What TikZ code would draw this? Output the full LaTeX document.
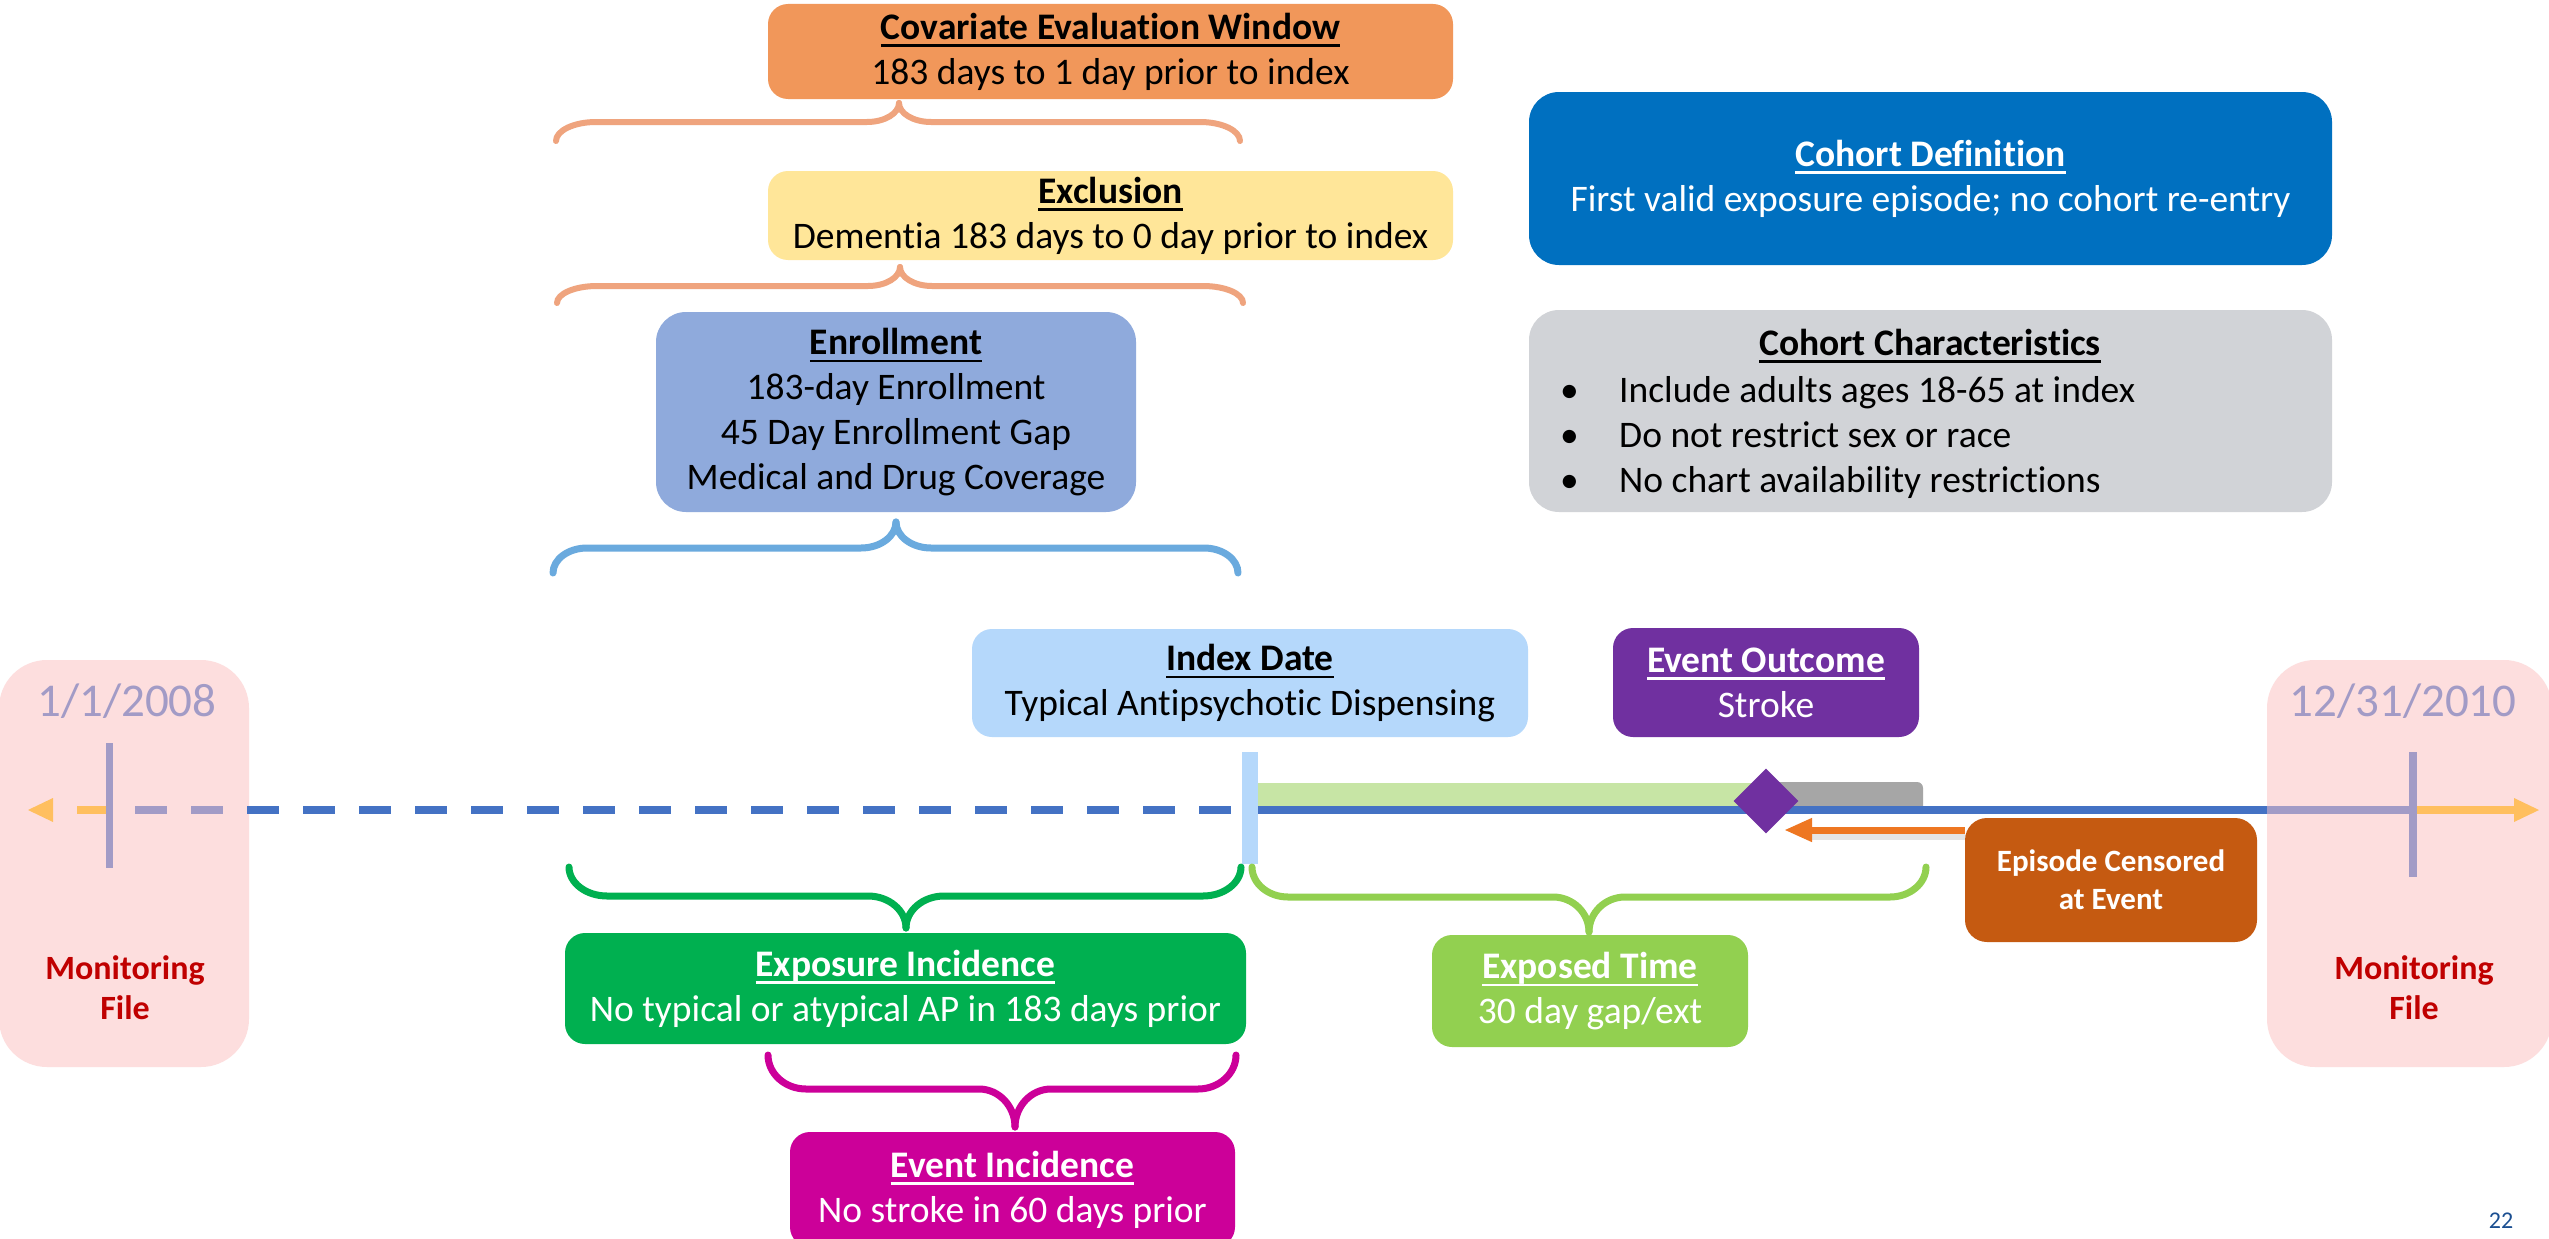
\documentclass[tikz,border=0pt]{standalone}
\usepackage{fontspec}
\setmainfont{Carlito}[Ligatures=NoCommon]
\usetikzlibrary{shapes.geometric,arrows.meta}
\definecolor{covarC}{HTML}{F1975A}
\definecolor{exclC}{HTML}{FFE699}
\definecolor{enrollC}{HTML}{8FAADC}
\definecolor{braceO}{HTML}{EFA47E}
\definecolor{braceB}{HTML}{6AAADE}
\definecolor{cdefC}{HTML}{0070C0}
\definecolor{ccharC}{HTML}{D1D3D7}
\definecolor{indexC}{HTML}{B5D8FB}
\definecolor{purpC}{HTML}{7030A0}
\definecolor{pinkC}{HTML}{FDDEDE}
\definecolor{lavC}{HTML}{A29BC6}
\definecolor{tlBlue}{HTML}{4472C4}
\definecolor{lorC}{HTML}{FFBF5F}
\definecolor{lgbarC}{HTML}{C7E5A5}
\definecolor{grayC}{HTML}{A6A6A6}
\definecolor{orArrow}{HTML}{EE7722}
\definecolor{episC}{HTML}{C55A11}
\definecolor{greenC}{HTML}{00B050}
\definecolor{lgreenC}{HTML}{92D050}
\definecolor{magC}{HTML}{CC0099}
\definecolor{monC}{HTML}{C00000}
\definecolor{pgC}{HTML}{1B4F91}
\newcommand\myul[1]{\setbox0=\hbox{#1}\rlap{\rule[-0.21em]{\wd0}{0.075em}}\box0}
% brace: style, xL, xR, xT, yE, yH, yT, a, c
\newcommand\bracedraw[9]{%
  \draw[line cap=round, #1] (#2,#5) .. controls (#2,{#5-0.55*(#5-#6)}) and ({#2+0.45*#8},#6) .. ({#2+#8},#6)
    -- ({#4-#9},#6) .. controls ({#4-0.45*#9},#6) and (#4,{#7-0.55*(#7-#6)}) .. (#4,#7);
  \draw[line cap=round, #1] (#4,#7) .. controls (#4,{#7-0.55*(#7-#6)}) and ({#4+0.45*#9},#6) .. ({#4+#9},#6)
    -- ({#3-#8},#6) .. controls ({#3-0.45*#8},#6) and (#3,{#5-0.55*(#5-#6)}) .. (#3,#5);}
\begin{document}
\begin{tikzpicture}[x=1pt,y=-1pt,
  box/.style={rounded corners=#1, inner sep=0pt, align=center, font=\fontsize{37.5}{45}\selectfont,
    execute at begin node={\rule{0pt}{0.9em}}},
  box/.default=20pt]
\useasboundingbox (0,0) rectangle (2549,1239);
\fill[white] (0,0) rectangle (2549,1239);

% top boxes
\node[box, fill=covarC, minimum width=685pt, minimum height=95pt] (covar) at (1110.5,51.5)
  {\myul{\textbf{Covariate Evaluation Window}}\\183 days to 1 day prior to index};
\node[box, fill=exclC, minimum width=685pt, minimum height=89pt] (excl) at (1110.5,215.5)
  {\myul{\textbf{Exclusion}}\\Dementia 183 days to 0 day prior to index};
\node[box=30pt, fill=enrollC, minimum width=480pt, minimum height=200pt] (enroll) at (896,412)
  {\myul{\textbf{Enrollment}}\\183-day Enrollment\\45 Day Enrollment Gap\\Medical and Drug Coverage};

\bracedraw{braceO, line width=6pt}{556}{1240}{899}{141}{122}{103}{40}{32}
\bracedraw{braceO, line width=6pt}{557}{1243}{900}{303}{286}{267}{40}{32}
\bracedraw{braceB, line width=7pt}{553}{1238}{896}{573}{548}{522}{34}{35}

% cohort boxes
\node[box=30pt, fill=cdefC, text=white, minimum width=803pt, minimum height=173pt] (cohortdef) at (1930.5,178.5)
  {\myul{\textbf{Cohort Definition}}\\First valid exposure episode; no cohort re-entry};
\node[box=30pt, fill=ccharC, minimum width=803pt, minimum height=202pt] (cohortchar) at (1930.5,411) {};
\node[font=\fontsize{37.5}{45}\selectfont, inner sep=0pt] (chartitle) at (1930,346) {\myul{\textbf{Cohort Characteristics}}};
\node[anchor=west, align=left, font=\fontsize{37.5}{45}\selectfont, inner sep=0pt] (charlist) at (1560,437)
  {\makebox[59pt][l]{•}Include adults ages 18-65 at index\\
   \makebox[59pt][l]{•}Do not restrict sex or race\\
   \makebox[59pt][l]{•}No chart availability restrictions};

% monitoring boxes
\fill[pinkC, rounded corners=48pt] (-1,660) rectangle (249,1067);
\fill[pinkC, rounded corners=48pt] (2267,660) rectangle (2552,1067);
\node[font=\fontsize{47}{50}\selectfont, text=lavC, inner sep=0pt] (dateL) at (127,701) {1/1/2008};
\node[font=\fontsize{47}{50}\selectfont, text=lavC, inner sep=0pt] (dateR) at (2403,701) {12/31/2010};
\node[font=\fontsize{34}{40}\selectfont\bfseries, text=monC, align=center, inner sep=0pt] (monL) at (125,988) {Monitoring\\File};
\node[font=\fontsize{34}{40}\selectfont\bfseries, text=monC, align=center, inner sep=0pt] (monR) at (2414,988) {Monitoring\\File};

% index / outcome
\node[box, fill=indexC, minimum width=556pt, minimum height=108pt] (index) at (1250,683)
  {\myul{\textbf{Index Date}}\\Typical Antipsychotic Dispensing};
\node[box, fill=purpC, text=white, minimum width=306pt, minimum height=109pt] (outcome) at (1766,682.5)
  {\myul{\textbf{Event Outcome}}\\Stroke};

% timeline
\draw[tlBlue, line width=8pt, dash pattern=on 32pt off 24pt] (247,810) -- (1242,810);
\draw[lavC, line width=8pt, dash pattern=on 32pt off 24pt] (135,810) -- (223,810);
\draw[lorC, line width=8pt] (77,810) -- (106,810);
\fill[lorC] (28,810) -- (53,798) -- (53,822) -- cycle;
\fill[lavC] (106,743) rectangle (113,868);
\fill[lgbarC] (1258,783) rectangle (1768,806);
\fill[grayC] (1760,806) -- (1760,782) [rounded corners=6pt] -- (1923,782) [sharp corners] -- (1923,806) -- cycle;
\draw[tlBlue, line width=8pt] (1258,810) -- (2267,810);
\draw[lavC, line width=8pt] (2267,810) -- (2410,810);
\draw[lorC, line width=8pt] (2416,810) -- (2515,810);
\fill[lorC] (2539,810) -- (2514,798) -- (2514,822) -- cycle;
\fill[lavC] (2409,752) rectangle (2417,877);
\fill[indexC] (1242,752) rectangle (1258,864);
\node[diamond, fill=purpC, inner sep=0pt, minimum width=65pt, minimum height=65pt] (evt) at (1766,801) {};

% episode censored
\node[box=22pt, fill=episC, text=white, minimum width=292pt, minimum height=124pt,
  font=\fontsize{31}{38}\selectfont\bfseries] (episode) at (2111,880) {Episode Censored\\at Event};
\coordinate (censtip) at (1784,830);
\draw[black, opacity=0.10, line width=6pt] (1808,837) -- (episode.west |- 0,837);
\draw[orArrow, line width=7pt, -{Triangle[length=28pt,width=22pt]}] (episode.west |- censtip) -- (censtip);

% lower braces and boxes
\bracedraw{greenC, line width=7pt}{569}{1241}{906}{867}{896}{928}{38}{38}
\bracedraw{lgreenC, line width=7pt}{1252}{1926}{1589}{867}{897}{932}{36}{36}
\bracedraw{magC, line width=7pt}{768}{1236}{1015}{1055}{1089}{1127}{38}{36}

\node[box, fill=greenC, text=white, minimum width=681pt, minimum height=111pt] (expinc) at (905.5,988.5)
  {\myul{\textbf{Exposure Incidence}}\\No typical or atypical AP in 183 days prior};
\node[box, fill=lgreenC, text=white, minimum width=316pt, minimum height=112pt] (exptime) at (1590,991)
  {\myul{\textbf{Exposed Time}}\\30 day gap/ext};
\node[box, fill=magC, text=white, minimum width=445pt, minimum height=115pt] (evtinc) at (1012.5,1189.5)
  {\myul{\textbf{Event Incidence}}\\No stroke in 60 days prior};

\node[font=\fontsize{24}{28}\selectfont, text=pgC, inner sep=0pt] (pg) at (2501,1221) {22};
\end{tikzpicture}
\end{document}
